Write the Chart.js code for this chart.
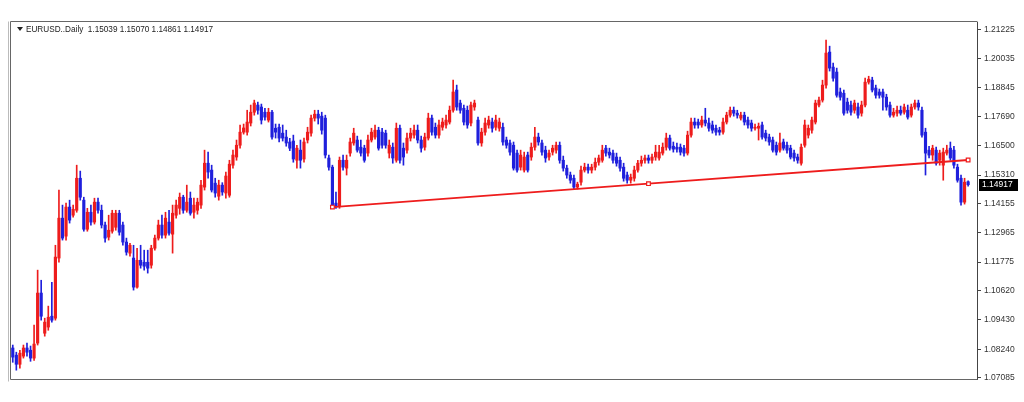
<!DOCTYPE html>
<html><head><meta charset="utf-8">
<script src="https://cdn.jsdelivr.net/npm/chart.js@4.4.1/dist/chart.umd.min.js"></script>
<style>html,body{margin:0;padding:0;background:#fff;overflow:hidden}#wrap{position:relative;width:1024px;height:402px}</style>
</head><body><div id="wrap"><canvas id="c" width="1024" height="402"></canvas></div>
<script>
const symbolTitle = "EURUSD..Daily";
const headerValues = ["1.15039", "1.15070", "1.14861", "1.14917"];
const tickValues = [1.07085, 1.08240, 1.09430, 1.10620, 1.11775, 1.12965, 1.14155, 1.15310, 1.16500, 1.17690, 1.18845, 1.20035, 1.21225];
const tickLabels = ["1.07085", "1.08240", "1.09430", "1.10620", "1.11775", "1.12965", "1.14155", "1.15310", "1.16500", "1.17690", "1.18845", "1.20035", "1.21225"];
const lastPrice = 1.14917;
const lastPriceLabel = "1.14917";

const opens = [
1.0829,1.0800,1.0763,1.0796,1.0829,1.0820,1.0788,1.0849,1.1052,1.0889,1.0914,1.0958,1.0950,1.1194,1.1356,1.1283,1.1401,1.1368,1.1388,1.1518,1.1429,1.1311,1.1380,1.1340,1.1421,1.1388,1.1328,1.1279,1.1303,1.1319,1.1376,1.1328,1.1259,1.1214,1.1194,1.1076,1.1185,1.1177,1.1177,1.1165,1.1234,1.1275,1.1328,1.1287,
1.1340,1.1291,1.1368,1.1396,1.1441,1.1388,1.1437,1.1380,1.1388,1.1409,1.1482,1.1579,1.1551,1.1498,1.1445,1.1490,1.1458,1.1449,1.1571,1.1604,1.1652,1.1705,1.1705,1.1742,1.1786,1.1815,1.1807,1.1786,1.1754,1.1786,1.1721,1.1725,1.1701,1.1685,1.1665,1.1669,1.1591,1.1632,1.1596,1.1673,1.1701,1.1762,1.1778,1.1770,1.1762,
1.1600,1.1563,1.1417,1.1405,1.1591,1.1559,1.1620,1.1661,1.1673,1.1644,
1.1640,1.1620,1.1673,1.1685,1.1713,1.1705,1.1701,1.1620,1.1644,
1.1591,1.1721,1.1640,1.1632,1.1681,1.1693,1.1713,1.1673,
1.1644,1.1681,1.1762,1.1725,1.1693,1.1725,1.1734,1.1746,1.1794,1.1876,
1.1823,1.1802,1.1794,1.1742,1.1807,1.1754,1.1661,1.1705,1.1734,
1.1746,1.1725,1.1721,1.1725,1.1673,1.1661,1.1652,1.1620,1.1563,1.1551,
1.1612,1.1604,1.1644,1.1685,1.1661,1.1632,1.1604,1.1624,
1.1632,1.1652,1.1591,1.1559,1.1531,1.1518,1.1482,1.1502,1.1551,
1.1563,1.1551,1.1563,1.1583,1.1591,1.1640,1.1624,1.1620,1.1604,1.1591,
1.1563,1.1531,1.1510,1.1518,1.1551,1.1579,1.1591,1.1600,1.1591,
1.1604,
1.1600,1.1620,1.1644,1.1681,1.1648,1.1644,1.1644,1.1640,1.1620,1.1693,
1.1746,1.1746,1.1734,1.1754,1.1742,1.1734,1.1721,1.1713,1.1705,1.1746,
1.1774,1.1794,1.1782,1.1762,1.1774,1.1754,1.1742,
1.1721,1.1721,1.1734,1.1701,1.1685,1.1673,1.1652,1.1632,1.1665,
1.1652,1.1640,1.1620,1.1604,1.1579,1.1652,
1.1693,1.1713,1.1746,1.1815,1.1835,1.1896,1.2030,1.1969,1.1949,1.1868,
1.1863,1.1827,1.1815,1.1794,1.1807,1.1782,1.1815,1.1908,1.1916,1.1884,
1.1868,1.1868,1.1847,1.1815,1.1774,1.1782,1.1794,1.1786,
1.1794,1.1774,1.1807,1.1823,1.1794,1.1705,1.1632,1.1612,1.1632,
1.1591,1.1571,1.1620,1.1640,1.1632,1.1563,1.1518,1.1421,
1.15039];

const closes = [
1.0792,1.0763,1.0808,1.0829,1.0812,1.0788,1.0845,1.1052,1.0958,1.0934,1.0954,1.0942,1.1198,1.1356,1.1275,1.1401,1.1348,1.1392,1.1518,1.1441,1.1311,1.1380,1.1340,1.1421,1.1388,1.1328,1.1275,1.1307,1.1376,1.1376,1.1299,1.1259,1.1218,1.1246,1.1076,1.1185,1.1165,1.1161,1.1153,1.1234,1.1275,1.1328,1.1287,1.1356,
1.1295,1.1376,1.1409,1.1441,1.1388,1.1421,1.1376,1.1409,1.1421,1.1490,1.1579,1.1543,1.1470,1.1458,1.1490,1.1462,1.1527,1.1575,1.1612,1.1652,1.1705,1.1722,1.1746,1.1786,1.1823,1.1794,1.1754,1.1766,1.1786,1.1685,1.1705,1.1681,1.1681,1.1661,1.1640,1.1596,1.1640,1.1591,1.1665,1.1705,1.1762,1.1778,1.1762,1.1713,1.1612,
1.1563,1.1409,1.1405,1.1591,1.1563,1.1591,1.1665,1.1701,1.1632,1.1620,
1.1591,1.1673,1.1705,1.1713,1.1640,1.1652,1.1652,1.1652,1.1600,
1.1721,1.1591,1.1604,1.1681,1.1701,1.1713,1.1673,1.1640,
1.1685,1.1762,1.1705,1.1693,1.1734,1.1746,1.1754,1.1794,1.1868,1.1807,
1.1794,1.1746,1.1734,1.1815,1.1823,1.1661,1.1705,1.1742,1.1754,
1.1721,1.1754,1.1746,1.1665,1.1652,1.1624,1.1559,1.1551,1.1612,1.1604,
1.1551,1.1644,1.1685,1.1665,1.1624,1.1600,1.1620,1.1640,
1.1652,1.1591,1.1559,1.1531,1.1510,1.1482,1.1494,1.1551,1.1563,
1.1551,1.1563,1.1583,1.1600,1.1632,1.1620,1.1612,1.1591,1.1579,1.1559,
1.1518,1.1510,1.1522,1.1551,1.1579,1.1591,1.1600,1.1591,1.1604,
1.1624,
1.1624,1.1644,1.1681,1.1640,1.1636,1.1636,1.1624,1.1620,1.1693,1.1746,
1.1734,1.1734,1.1754,1.1742,1.1721,1.1713,1.1705,1.1705,1.1746,1.1774,
1.1794,1.1782,1.1774,1.1774,1.1746,1.1734,1.1721,
1.1725,1.1729,1.1685,1.1681,1.1665,1.1632,1.1624,1.1661,1.1640,
1.1632,1.1604,1.1600,1.1591,1.1644,1.1734,
1.1721,1.1754,1.1823,1.1835,1.1896,1.2026,1.1965,1.1924,1.1855,1.1847,
1.1782,1.1794,1.1786,1.1823,1.1774,1.1815,1.1908,1.1920,1.1876,1.1855,
1.1855,1.1847,1.1807,1.1774,1.1786,1.1794,1.1782,1.1807,
1.1766,1.1807,1.1823,1.1807,1.1693,1.1620,1.1612,1.1640,1.1579,
1.1620,1.1624,1.1632,1.1600,1.1571,1.1510,1.1421,1.1502,
1.14917];

const highs = [
1.0841,1.0812,1.0820,1.0841,1.0849,1.0837,1.0922,1.1145,1.1104,1.0950,1.0999,1.1096,1.1246,1.1470,1.1409,1.1417,1.1429,1.1409,1.1571,1.1547,1.1441,1.1396,1.1409,1.1437,1.1437,1.1409,1.1340,1.1368,1.1388,1.1388,1.1388,1.1340,1.1275,1.1254,1.1246,1.1234,1.1246,1.1226,1.1226,1.1246,1.1287,1.1348,1.1368,1.1380,
1.1388,1.1409,1.1429,1.1458,1.1449,1.1490,1.1462,1.1437,1.1437,1.1510,1.1632,1.1624,1.1571,1.1518,1.1510,1.1500,1.1543,1.1591,1.1632,1.1673,1.1734,1.1738,1.1794,1.1815,1.1835,1.1827,1.1819,1.1802,1.1802,1.1794,1.1738,1.1738,1.1734,1.1713,1.1680,1.1693,1.1652,1.1673,1.1681,1.1725,1.1774,1.1794,1.1794,1.1786,1.1774,
1.1612,1.1571,1.1462,1.1604,1.1612,1.1612,1.1681,1.1721,1.1689,1.1673,
1.1652,1.1693,1.1721,1.1734,1.1725,1.1721,1.1713,1.1673,1.1661,
1.1742,1.1734,1.1661,1.1701,1.1721,1.1734,1.1734,1.1689,
1.1701,1.1782,1.1774,1.1742,1.1754,1.1762,1.1774,1.1811,1.1916,1.1896,
1.1835,1.1815,1.1811,1.1827,1.1835,1.1766,1.1721,1.1762,1.1770,
1.1762,1.1774,1.1762,1.1742,1.1685,1.1673,1.1665,1.1632,1.1632,1.1624,
1.1624,1.1661,1.1725,1.1701,1.1673,1.1648,1.1632,1.1652,
1.1665,1.1665,1.1608,1.1571,1.1543,1.1531,1.1502,1.1567,1.1579,
1.1575,1.1575,1.1600,1.1612,1.1652,1.1652,1.1640,1.1632,1.1620,1.1604,
1.1579,1.1543,1.1535,1.1567,1.1591,1.1608,1.1612,1.1612,1.1616,
1.1652,
1.1652,1.1661,1.1701,1.1693,1.1665,1.1661,1.1657,1.1652,1.1709,1.1762,
1.1762,1.1758,1.1770,1.1802,1.1762,1.1750,1.1734,1.1725,1.1762,1.1786,
1.1807,1.1807,1.1794,1.1786,1.1786,1.1766,1.1754,
1.1738,1.1742,1.1746,1.1713,1.1697,1.1685,1.1665,1.1701,1.1677,
1.1665,1.1652,1.1632,1.1616,1.1657,1.1754,
1.1734,1.1766,1.1835,1.1847,1.1916,1.2079,1.2054,1.1985,1.1965,1.1884,
1.1876,1.1843,1.1831,1.1835,1.1823,1.1831,1.1924,1.1932,1.1928,1.1896,
1.1880,1.1880,1.1859,1.1827,1.1802,1.1811,1.1811,1.1819,
1.1815,1.1819,1.1835,1.1835,1.1807,1.1721,1.1648,1.1652,1.1644,
1.1632,1.1640,1.1652,1.1665,1.1648,1.1575,1.1531,1.1518,
1.15070];

const lows = [
1.0771,1.0739,1.0747,1.0788,1.0796,1.0775,1.0779,1.0841,1.0942,1.0877,1.0901,1.0934,1.0942,1.1177,1.1267,1.1267,1.1336,1.1360,1.1380,1.1429,1.1303,1.1303,1.1328,1.1332,1.1376,1.1316,1.1259,1.1267,1.1295,1.1307,1.1287,1.1246,1.1206,1.1202,1.1064,1.1072,1.1153,1.1145,1.1133,1.1153,1.1226,1.1267,1.1275,1.1275,
1.1287,1.1214,1.1356,1.1372,1.1376,1.1380,1.1368,1.1356,1.1372,1.1396,1.1470,1.1518,1.1462,1.1441,1.1429,1.1449,1.1437,1.1441,1.1559,1.1591,1.1640,1.1697,1.1693,1.1730,1.1774,1.1778,1.1738,1.1754,1.1746,1.1677,1.1681,1.1665,1.1669,1.1648,1.1630,1.1583,1.1559,1.1559,1.1583,1.1661,1.1689,1.1750,1.1738,1.1697,1.1600,
1.1551,1.1396,1.1396,1.1396,1.1551,1.1531,1.1608,1.1652,1.1624,1.1608,
1.1583,1.1608,1.1665,1.1677,1.1632,1.1640,1.1640,1.1600,1.1579,
1.1583,1.1579,1.1571,1.1620,1.1669,1.1681,1.1661,1.1624,
1.1632,1.1673,1.1693,1.1681,1.1681,1.1713,1.1721,1.1738,1.1786,1.1794,
1.1782,1.1734,1.1721,1.1730,1.1794,1.1652,1.1648,1.1693,1.1721,
1.1705,1.1713,1.1709,1.1652,1.1640,1.1612,1.1551,1.1543,1.1551,1.1543,
1.1543,1.1591,1.1632,1.1652,1.1612,1.1583,1.1591,1.1612,
1.1620,1.1579,1.1547,1.1518,1.1498,1.1474,1.1474,1.1490,1.1543,
1.1539,1.1539,1.1551,1.1571,1.1583,1.1608,1.1600,1.1579,1.1567,1.1547,
1.1506,1.1498,1.1498,1.1506,1.1543,1.1567,1.1579,1.1579,1.1579,
1.1591,
1.1591,1.1612,1.1632,1.1632,1.1624,1.1624,1.1612,1.1608,1.1612,1.1685,
1.1721,1.1721,1.1725,1.1730,1.1709,1.1701,1.1693,1.1693,1.1697,1.1738,
1.1766,1.1770,1.1762,1.1754,1.1734,1.1721,1.1709,
1.1713,1.1673,1.1677,1.1669,1.1652,1.1624,1.1612,1.1624,1.1632,
1.1620,1.1596,1.1587,1.1579,1.1571,1.1644,
1.1681,1.1701,1.1738,1.1807,1.1827,1.1884,1.1953,1.1912,1.1847,1.1835,
1.1774,1.1782,1.1774,1.1782,1.1762,1.1770,1.1807,1.1900,1.1868,1.1843,
1.1843,1.1794,1.1794,1.1766,1.1766,1.1770,1.1774,1.1778,
1.1758,1.1766,1.1798,1.1794,1.1685,1.1531,1.1600,1.1591,1.1571,
1.1571,1.1510,1.1612,1.1591,1.1559,1.1502,1.1409,1.1413,
1.14861];

// trend line anchors (candle index, price)
const trendIndex = [90, 179, 269];
const trendPrice = [1.1401, 1.1496, 1.1592];

const emptySlotsRight = 2;
const BULL = '#ee1c1c', BEAR = '#1f1fdc', TREND = '#ee1c1c';

const N = closes.length;
const labels = Array.from({length: N + emptySlotsRight}, (_, i) => String(i + 1));
const colors = closes.map((c, i) => c >= opens[i] ? BULL : BEAR);
const wickData = lows.map((l, i) => [l, highs[i]]);
const bodyData = opens.map((o, i) => [o, closes[i]]);
const trendData = labels.map((_, i) => { const k = trendIndex.indexOf(i); return k >= 0 ? trendPrice[k] : null; });

const framePlugin = {
  id: 'frame',
  afterDraw(chart) {
    const {ctx, chartArea: a} = chart;
    ctx.save();
    ctx.strokeStyle = '#666'; ctx.lineWidth = 1;
    ctx.beginPath();
    ctx.moveTo(a.left - 0.5, a.top - 0.5); ctx.lineTo(a.right + 0.5, a.top - 0.5);
    ctx.moveTo(a.left - 0.5, a.top - 0.5); ctx.lineTo(a.left - 0.5, a.bottom + 0.5);
    ctx.lineTo(a.right + 0.5, a.bottom + 0.5);
    ctx.stroke();
    ctx.strokeStyle = '#bbb';
    ctx.beginPath(); ctx.moveTo(a.left - 2.5, a.top - 0.5); ctx.lineTo(a.left - 2.5, a.bottom + 2.5); ctx.stroke();
    // header
    ctx.fillStyle = '#222';
    ctx.font = '8.2px "Liberation Sans", Arial, sans-serif';
    ctx.textBaseline = 'middle';
    ctx.beginPath();
    ctx.moveTo(a.left + 6, a.top + 5); ctx.lineTo(a.left + 12, a.top + 5); ctx.lineTo(a.left + 9, a.top + 9); ctx.closePath(); ctx.fill();
    ctx.fillText(symbolTitle + '  ' + headerValues.join(' '), a.left + 15, a.top + 7.5);
    // last price tag
    const y = chart.scales.y.getPixelForValue(lastPrice);
    ctx.fillStyle = '#000';
    ctx.fillRect(a.right + 2, Math.round(y) - 6, 39, 12);
    ctx.fillStyle = '#fff';
    ctx.textAlign = 'left';
    ctx.font = '8.5px "Liberation Sans", Arial, sans-serif';
    ctx.fillText(lastPriceLabel, a.right + 5, Math.round(y));
    ctx.restore();
  }
};

new Chart(document.getElementById('c'), {
  type: 'bar',
  data: {
    labels,
    datasets: [
      {type: 'line', data: trendData, spanGaps: true, borderColor: TREND, borderWidth: 1.8,
       pointStyle: 'rect', pointRadius: 2.6, pointBorderWidth: 1.2, pointBackgroundColor: '#fff', pointBorderColor: TREND, order: 0},
      {data: bodyData, backgroundColor: colors, barThickness: 2.5, minBarLength: 1, grouped: false, order: 1},
      {data: wickData, backgroundColor: colors, barThickness: 1, grouped: false, order: 2}
    ]
  },
  options: {
    responsive: false, animation: false, devicePixelRatio: 1,
    layout: {padding: {left: 11, top: 22, bottom: 23, right: 0}},
    plugins: {legend: {display: false}, tooltip: {enabled: false}},
    scales: {
      x: {type: 'category', display: false, offset: true, grid: {display: false}},
      y: {
        position: 'right', min: 1.07032, max: 1.21521,
        afterBuildTicks: s => { s.ticks = tickValues.map(v => ({value: v})); },
        afterFit: s => { s.width = 47; },
        ticks: {callback: v => tickLabels[tickValues.indexOf(v)], color: '#333', padding: 3,
                font: {family: '"Liberation Sans", Arial, sans-serif', size: 8.5}},
        grid: {drawOnChartArea: false, drawTicks: true, tickLength: 4, color: '#444'},
        border: {display: true, color: '#444'}
      }
    }
  },
  plugins: [framePlugin]
});
</script>
</body></html>
